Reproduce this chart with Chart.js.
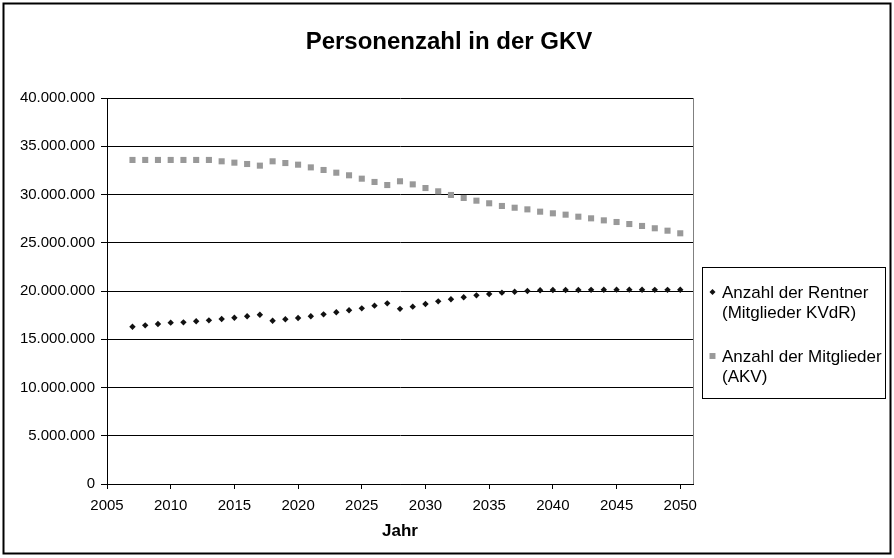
<!DOCTYPE html>
<html>
<head>
<meta charset="utf-8">
<script src="https://cdn.jsdelivr.net/npm/chart.js@4.4.1/dist/chart.umd.min.js"></script>
<style>
  html, body { margin: 0; padding: 0; background: #fff; }
</style>
</head>
<body>
<canvas id="chart-gkv" width="894" height="558"></canvas>
<script>
const FONT = '"Liberation Sans", Arial, sans-serif';

const TITLE = 'Personenzahl in der GKV';
const X_TITLE = 'Jahr';

const YEARS = [
  2007, 2008, 2009, 2010, 2011, 2012, 2013, 2014, 2015, 2016, 2017,
  2018, 2019, 2020, 2021, 2022, 2023, 2024, 2025, 2026, 2027, 2028,
  2029, 2030, 2031, 2032, 2033, 2034, 2035, 2036, 2037, 2038, 2039,
  2040, 2041, 2042, 2043, 2044, 2045, 2046, 2047, 2048, 2049, 2050,
];

// Anzahl der Rentner (Mitglieder KVdR)
const RENTNER = [
  16300000, 16440000, 16580000, 16720000, 16750000, 16860000, 16960000, 17100000, 17230000, 17380000, 17540000,
  16920000, 17070000, 17200000, 17380000, 17580000, 17800000, 18000000, 18200000, 18480000, 18720000, 18150000,
  18380000, 18650000, 18930000, 19140000, 19350000, 19550000, 19690000, 19830000, 19930000, 20000000, 20070000,
  20100000, 20100000, 20100000, 20120000, 20130000, 20140000, 20140000, 20130000, 20120000, 20120000, 20130000,
];

// Anzahl der Mitglieder (AKV)
const MITGLIEDER = [
  33580000, 33580000, 33580000, 33580000, 33580000, 33580000, 33580000, 33440000, 33300000, 33160000, 32990000,
  33440000, 33260000, 33090000, 32810000, 32540000, 32260000, 31990000, 31640000, 31300000, 30980000, 31370000,
  31050000, 30670000, 30330000, 29950000, 29640000, 29360000, 29090000, 28810000, 28630000, 28460000, 28220000,
  28050000, 27910000, 27700000, 27530000, 27320000, 27150000, 26940000, 26740000, 26500000, 26250000, 25980000,
];

const SERIES_LABELS = [
  ['Anzahl der Rentner', '(Mitglieder KVdR)'],
  ['Anzahl der Mitglieder', '(AKV)'],
];

function formatDe(v) {
  return String(Math.round(v)).replace(/\B(?=(\d{3})+(?!\d))/g, '.');
}

function drawMarker(ctx, style, x, y, r) {
  ctx.beginPath();
  if (style === 'rectRot') {
    ctx.moveTo(x - r, y);
    ctx.lineTo(x, y - r);
    ctx.lineTo(x + r, y);
    ctx.lineTo(x, y + r);
  } else {
    const s = Math.SQRT1_2 * r;
    ctx.rect(x - s, y - s, 2 * s, 2 * s);
  }
  ctx.closePath();
  ctx.fill();
}

const decorations = {
  id: 'decorations',
  afterDraw(chart) {
    const { ctx, chartArea: area } = chart;
    ctx.save();

    // plot area right edge
    ctx.strokeStyle = '#808080';
    ctx.lineWidth = 1;
    ctx.beginPath();
    ctx.moveTo(Math.round(area.right) + 0.5, area.top);
    ctx.lineTo(Math.round(area.right) + 0.5, area.bottom);
    ctx.stroke();

    // outer frame
    ctx.strokeStyle = '#000';
    ctx.lineWidth = 2;
    ctx.strokeRect(3.5, 3.5, 887, 550);

    // title
    ctx.fillStyle = '#000';
    ctx.font = 'bold 24px ' + FONT;
    ctx.textAlign = 'center';
    ctx.textBaseline = 'middle';
    ctx.fillText(TITLE, 449, 42);

    // legend
    ctx.strokeStyle = '#000';
    ctx.lineWidth = 1;
    ctx.strokeRect(702.5, 267.5, 183, 131);
    ctx.font = '17px ' + FONT;
    ctx.textAlign = 'left';
    ctx.textBaseline = 'alphabetic';
    const itemTops = [298, 362];
    chart.data.datasets.forEach((ds, i) => {
      const base = itemTops[i];
      ctx.fillStyle = ds.backgroundColor;
      drawMarker(ctx, ds.pointStyle, 712.5, base - 6, ds.pointStyle === 'rectRot' ? 3 : 4.2);
      ctx.fillStyle = '#000';
      SERIES_LABELS[i].forEach((line, j) => {
        ctx.fillText(line, 722, base + j * 19.8);
      });
    });

    ctx.restore();
  },
};

new Chart(document.getElementById('chart-gkv'), {
  type: 'scatter',
  data: {
    datasets: [
      {
        label: SERIES_LABELS[0].join(' '),
        data: YEARS.map((y, i) => ({ x: y, y: RENTNER[i] })),
        pointStyle: 'rectRot',
        pointRadius: 3.2,
        pointHoverRadius: 3.2,
        backgroundColor: '#111111',
        borderColor: '#111111',
        borderWidth: 0,
      },
      {
        label: SERIES_LABELS[1].join(' '),
        data: YEARS.map((y, i) => ({ x: y, y: MITGLIEDER[i] })),
        pointStyle: 'rect',
        pointRadius: 4.3,
        pointHoverRadius: 4.3,
        backgroundColor: '#999999',
        borderColor: '#999999',
        borderWidth: 0,
      },
    ],
  },
  options: {
    responsive: false,
    animation: false,
    layout: { padding: { left: 0, top: 98, right: 201, bottom: 0 } },
    plugins: {
      legend: { display: false },
      title: { display: false },
      tooltip: { enabled: false },
    },
    scales: {
      x: {
        type: 'linear',
        min: 2005,
        max: 2051,
        afterFit: scale => { scale.height = 74; },
        afterBuildTicks: scale => {
          scale.ticks = scale.ticks.filter(t => t.value % 5 === 0);
        },
        ticks: {
          stepSize: 5,
          includeBounds: false,
          color: '#000',
          padding: 8,
          maxRotation: 0,
          font: { family: FONT, size: 15 },
          callback: v => String(v),
        },
        grid: { drawOnChartArea: false, drawTicks: true, tickLength: 5, color: '#000' },
        border: { color: '#000', width: 1 },
        title: {
          display: true,
          text: X_TITLE,
          color: '#000',
          font: { family: FONT, size: 17, weight: 'bold' },
          padding: { top: 0, bottom: 16 },
        },
      },
      y: {
        min: 0,
        max: 40000000,
        afterFit: scale => { scale.width = 107; },
        ticks: {
          stepSize: 5000000,
          color: '#000',
          padding: 6,
          font: { family: FONT, size: 15 },
          callback: v => formatDe(v),
        },
        grid: { color: '#000', lineWidth: 1, tickLength: 6 },
        border: { color: '#000', width: 1 },
      },
    },
  },
  plugins: [decorations],
});
</script>
</body>
</html>
